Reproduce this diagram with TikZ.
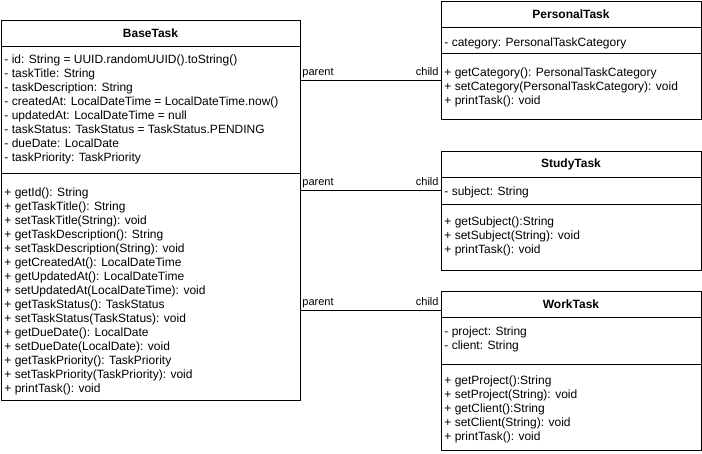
\documentclass[tikz,border=0pt]{standalone}
\usepackage{fontspec}
\setmainfont{Liberation Sans}
\usetikzlibrary{positioning}

\begin{document}
\begin{tikzpicture}[
    x=1pt, y=-1pt, line width=0.9pt,
    umlhead/.style={draw, anchor=north west, minimum width=#1, minimum height=26,
        inner sep=0pt, outer sep=0pt, font=\fontsize{12}{14}\selectfont\bfseries},
    umlpart/.style={draw, minimum width=#1, inner sep=0pt, outer sep=0pt},
    members/.style={anchor=north west, align=left, inner sep=0pt,
        font=\fontsize{12}{14}\selectfont},
    assoc/.style={draw, line width=0.9pt},
    lbl/.style={font=\fontsize{11}{13}\selectfont, inner sep=0pt}
]
    \useasboundingbox (0,0) rectangle (702,454);

    % BaseTask (left)
    \node[umlhead=299] (base) at (1,20) {BaseTask};
    \node[umlpart=299, minimum height=127, below=0pt of base] (baseattr) {};
    \node[umlpart=299, minimum height=227, below=0pt of baseattr] (basemeth) {};
    \node[members] (baseattrtxt) at ([xshift=3, yshift=-8]baseattr.north west)
        {- id: String = UUID.randomUUID().toString()\\
         - taskTitle: String\\
         - taskDescription: String\\
         - createdAt: LocalDateTime = LocalDateTime.now()\\
         - updatedAt: LocalDateTime = null\\
         - taskStatus: TaskStatus = TaskStatus.PENDING\\
         - dueDate: LocalDate\\
         - taskPriority: TaskPriority};
    \node[members] (basemethtxt) at ([xshift=3, yshift=-14]basemeth.north west)
        {+ getId(): String\\
         + getTaskTitle(): String\\
         + setTaskTitle(String): void\\
         + getTaskDescription(): String\\
         + setTaskDescription(String): void\\
         + getCreatedAt(): LocalDateTime\\
         + getUpdatedAt(): LocalDateTime\\
         + setUpdatedAt(LocalDateTime): void\\
         + getTaskStatus(): TaskStatus\\
         + setTaskStatus(TaskStatus): void\\
         + getDueDate(): LocalDate\\
         + setDueDate(LocalDate): void\\
         + getTaskPriority(): TaskPriority\\
         + setTaskPriority(TaskPriority): void\\
         + printTask(): void};

    % PersonalTask (top right)
    \node[umlhead=260] (ptask) at (441,1) {PersonalTask};
    \node[umlpart=260, minimum height=26, below=0pt of ptask] (pattr) {};
    \node[umlpart=260, minimum height=66, below=0pt of pattr] (pmeth) {};
    \node[members] (pattrtxt) at ([xshift=3, yshift=-10]pattr.north west)
        {- category: PersonalTaskCategory};
    \node[members] (pmethtxt) at ([xshift=3, yshift=-14]pmeth.north west)
        {+ getCategory(): PersonalTaskCategory\\
         + setCategory(PersonalTaskCategory): void\\
         + printTask(): void};

    % StudyTask (middle right)
    \node[umlhead=260] (stask) at (441,151) {StudyTask};
    \node[umlpart=260, minimum height=27, below=0pt of stask] (sattr) {};
    \node[umlpart=260, minimum height=66, below=0pt of sattr] (smeth) {};
    \node[members] (sattrtxt) at ([xshift=3, yshift=-9]sattr.north west)
        {- subject: String};
    \node[members] (smethtxt) at ([xshift=3, yshift=-12.5]smeth.north west)
        {+ getSubject():String\\
         + setSubject(String): void\\
         + printTask(): void};

    % WorkTask (bottom right)
    \node[umlhead=260] (wtask) at (441,291) {WorkTask};
    \node[umlpart=260, minimum height=47, below=0pt of wtask] (wattr) {};
    \node[umlpart=260, minimum height=86, below=0pt of wattr] (wmeth) {};
    \node[members] (wattrtxt) at ([xshift=3, yshift=-9]wattr.north west)
        {- project: String\\
         - client: String};
    \node[members] (wmethtxt) at ([xshift=3, yshift=-11]wmeth.north west)
        {+ getProject():String\\
         + setProject(String): void\\
         + getClient():String\\
         + setClient(String): void\\
         + printTask(): void};

    % parent -> child links
    \coordinate (pend) at ([yshift=5.3]pmeth.west);
    \coordinate (send) at (sattr.west);
    \coordinate (wend) at ([yshift=-6.7]wtask.west);
    \foreach \e in {pend, send, wend} {
        \draw[assoc] (base.east |- \e) -- (\e)
            node[lbl, pos=0, anchor=base west, xshift=2, yshift=5] {parent}
            node[lbl, pos=1, anchor=base east, xshift=-2, yshift=5] {child};
    }
\end{tikzpicture}
\end{document}
